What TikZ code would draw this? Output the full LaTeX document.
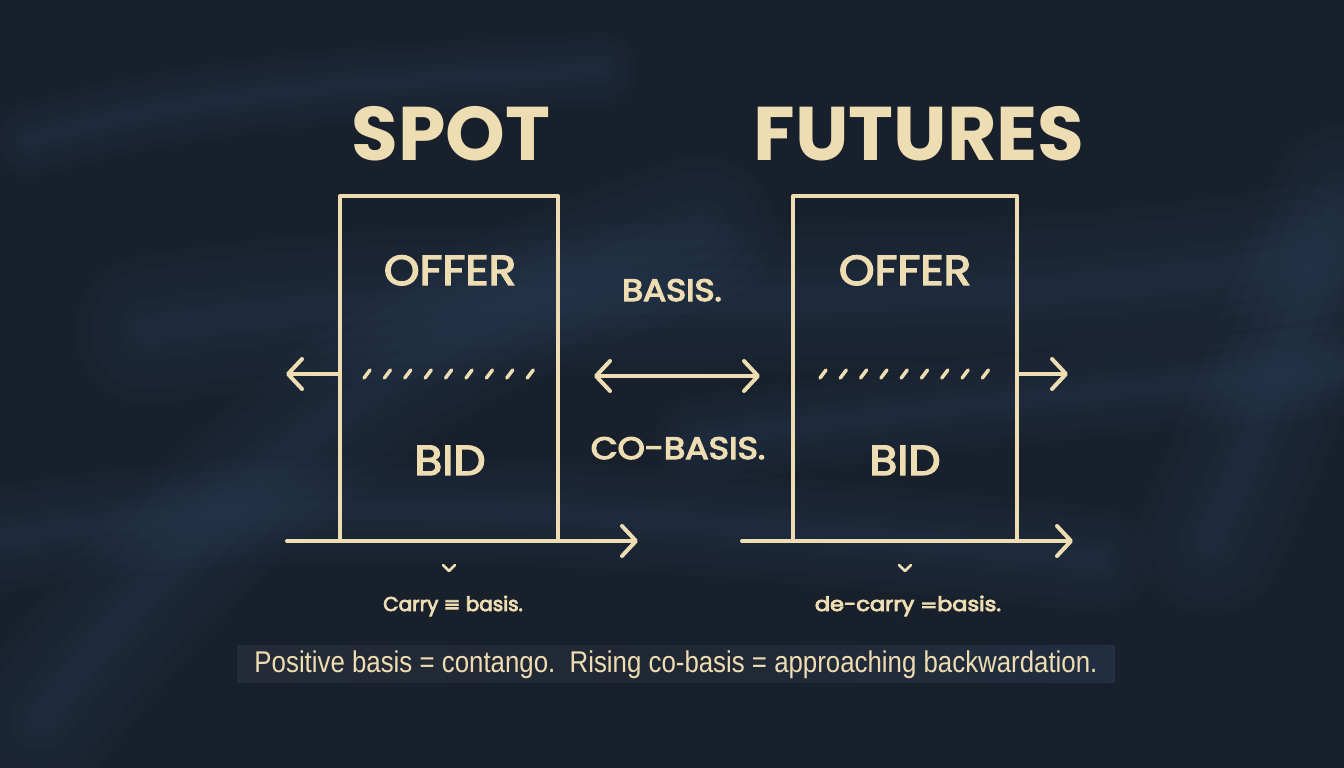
\documentclass[tikz,border=0pt]{standalone}
\usepackage{fontspec}
\usepackage{graphicx}
\setmainfont{Poppins}
\newfontfamily\libsans{Liberation Sans}
\newfontfamily\djv{DejaVu Sans}
\newcommand{\thick}[2]{\special{pdf:literal direct 2 Tr #1 w}#2\special{pdf:literal direct 0 Tr}}
\usetikzlibrary{arrows.meta}
\definecolor{bg}{HTML}{18202C}
\definecolor{streak}{HTML}{3A5477}
\definecolor{chalk}{HTML}{EEDCB2}
\tikzset{
  chalkline/.style={draw=chalk, line width=4pt, line cap=round, line join=round},
  arr/.style={chalkline, -{Straight Barb[length=14pt, width=30pt, line cap=round, line join=round]}},
  darr/.style={chalkline, {Straight Barb[length=14pt, width=30pt, line cap=round, line join=round]}-{Straight Barb[length=14pt, width=30pt, line cap=round, line join=round]}},
  pricebox/.style={chalkline, minimum width=218pt, minimum height=345pt, inner sep=0pt},
  title/.style={text=chalk, anchor=base, inner sep=0pt, font=\bfseries\fontsize{76}{76}\selectfont},
  side/.style={text=chalk, anchor=base, inner sep=0pt, font=\fontsize{42}{42}\selectfont},
  mid/.style={text=chalk, anchor=base, inner sep=0pt, font=\fontsize{31}{31}\selectfont},
  small/.style={text=chalk, anchor=base, inner sep=0pt, font=\fontsize{20}{20}\selectfont},
  tick/.style={chalkline, line width=3.5pt},
  brush/.style={streak, line cap=round, opacity=0.05},
}
\begin{document}
\begin{tikzpicture}[x=1pt,y=-1pt]
\useasboundingbox (0,0) rectangle (1344,768);
\fill[bg] (0,0) rectangle (1344,768);
% background brush streaks (soft, layered)
\foreach \w in {150,120,90,60,30} {
  \draw[brush, line width=\w pt] (40,720) .. controls (230,470) and (420,320) .. (700,230);
  \draw[brush, line width=\w pt] (150,330) .. controls (500,270) and (900,330) .. (1300,260);
  \draw[brush, line width=\w pt] (1210,540) .. controls (1260,430) and (1300,320) .. (1344,200);
  \draw[brush, line width=0.7*\w pt] (0,540) .. controls (300,480) and (700,520) .. (1100,560);
  \draw[brush, line width=0.6*\w pt] (700,440) .. controls (900,410) and (1100,390) .. (1344,370);
  \draw[brush, line width=0.5*\w pt] (30,140) .. controls (200,90) and (400,80) .. (600,70);
}

% titles
\node[title] (spot) at (451,160) {SPOT};
\node[title] (fut) at (919,160) {FUTURES};

% boxes
\node[pricebox] (sbox) at (449,368.5) {};
\node[pricebox, minimum width=224pt] (fbox) at (905,368.5) {};

% labels in boxes
\node[side] (soffer) at (450,285) {\scalebox{1.08}[1]{\thick{1.4}{OFFER}}};
\node[side] (sbid) at (450,475) {\scalebox{1.08}[1]{\thick{1.4}{BID}}};
\node[side] (foffer) at (905,285) {\scalebox{1.08}[1]{\thick{1.4}{OFFER}}};
\node[side] (fbid) at (905,475) {\scalebox{1.08}[1]{\thick{1.4}{BID}}};

% dashed separators
\foreach \i in {0,...,8} {
  \draw[tick] ({367+20.4*\i-3},378) -- ({367+20.4*\i+3},370);
  \draw[tick] ({823+20.3*\i-3},378) -- ({823+20.3*\i+3},370);
}

% side arrows
\coordinate (sl0) at (340,374);
\coordinate (sl1) at (286,374);
\draw[arr] (sl0) -- (sl1);
\coordinate (fr0) at (1017,374);
\coordinate (fr1) at (1068,374);
\draw[arr] (fr0) -- (fr1);

% axes
\coordinate (sa0) at (287,541);
\coordinate (sa1) at (638,541);
\draw[arr] (sa0) -- (sa1);
\coordinate (fa0) at (742,541);
\coordinate (fa1) at (1073,541);
\draw[arr] (fa0) -- (fa1);

% middle
\node[mid] (basis) at (672,301) {\scalebox{1.1}[1]{\thick{1.2}{BASIS.}}};
\node[mid] (cobasis) at (678,459) {\scalebox{1.12}[1]{\thick{1.2}{CO-BASIS.}}};
\coordinate (m0) at (594,376);
\coordinate (m1) at (760,376);
\draw[darr] (m0) -- (m1);

% chevrons
\draw[chalkline, line width=2.5pt] (443,565) -- (449,571) -- (455,565);
\draw[chalkline, line width=2.5pt] (899,565) -- (905,571) -- (911,565);

% small notes
\node[small] (carry) at (453,611) {\thick{0.8}{Carry {\djv\fontsize{20}{20}\selectfont ≡} basis.}};
\node[small] (decarry) at (908,611) {\scalebox{1.12}[1]{\thick{0.8}{de-carry {\djv\fontsize{18}{18}\selectfont =}basis.}}};

% bottom band
\shade[left color=bg!88!white, right color=streak!65!bg, middle color=bg!92!white, opacity=0.45] (237,645) rectangle (1115,682);
\node[text=chalk, anchor=base, inner sep=0pt] (summary) at (676,672)
  {\resizebox{843pt}{\height}{\libsans\fontsize{30}{30}\selectfont Positive basis = contango.\ \ Rising co-basis = approaching backwardation.}};
\end{tikzpicture}
\end{document}
